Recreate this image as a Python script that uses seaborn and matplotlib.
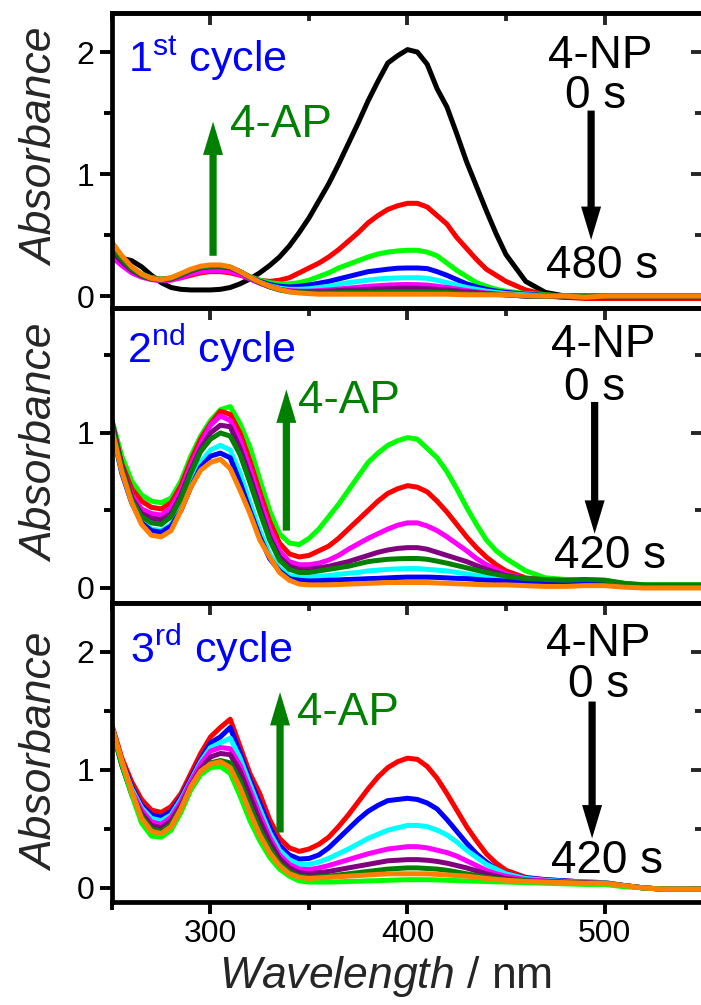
import numpy as np
import pandas as pd
import matplotlib
matplotlib.use("Agg")
import matplotlib.pyplot as plt
from matplotlib.ticker import MultipleLocator, FormatStrFormatter
import seaborn as sns

sns.set_style("ticks")
plt.rcParams["font.family"] = ["Liberation Sans", "DejaVu Sans"]
plt.rcParams["mathtext.fontset"] = "custom"
plt.rcParams["mathtext.rm"] = "Liberation Sans"
plt.rcParams["mathtext.it"] = "Liberation Sans:italic"
plt.rcParams["mathtext.bf"] = "Liberation Sans:bold"

# ---------------- data ----------------
wavelength = [250, 255, 260, 265, 270, 275, 280, 285, 290, 295, 300, 305, 310, 315, 320, 325, 330, 335, 340, 345, 350,
              355, 360, 365, 370, 375, 380, 385, 390, 395, 400, 405, 410, 415, 420, 425, 430, 435, 440, 445, 450,
              460, 470, 480, 490, 500, 510, 520, 530, 540, 550]

# 1st cycle
p1_black = [0.32, 0.31, 0.29, 0.24, 0.17, 0.11, 0.07, 0.055, 0.05, 0.05, 0.05, 0.055, 0.07, 0.10, 0.14, 0.19, 0.25, 0.32, 0.41, 0.52, 0.64,
            0.78, 0.92, 1.08, 1.25, 1.42, 1.60, 1.76, 1.91, 1.97, 2.02, 2.00, 1.90, 1.70, 1.55, 1.33, 1.10, 0.90, 0.70, 0.51, 0.34,
            0.12, 0.03, 0.0, -0.01, -0.01, -0.01, -0.01, -0.01, -0.01, -0.01]
p1_red = [0.37, 0.27, 0.21, 0.17, 0.15, 0.14, 0.14, 0.15, 0.17, 0.19, 0.20, 0.20, 0.19, 0.17, 0.15, 0.13, 0.12, 0.13, 0.15, 0.19, 0.23,
          0.27, 0.32, 0.38, 0.45, 0.52, 0.60, 0.66, 0.71, 0.74, 0.76, 0.76, 0.73, 0.66, 0.59, 0.48, 0.39, 0.30, 0.22, 0.17, 0.12,
          0.05, 0.01, -0.01, -0.02, -0.02, -0.02, -0.02, -0.02, -0.02, -0.02]
p1_green = [0.40, 0.30, 0.23, 0.18, 0.15, 0.14, 0.15, 0.18, 0.21, 0.235, 0.245, 0.245, 0.235, 0.20, 0.16, 0.13, 0.11, 0.10, 0.10, 0.11, 0.13,
            0.16, 0.19, 0.23, 0.26, 0.29, 0.32, 0.345, 0.36, 0.37, 0.375, 0.375, 0.36, 0.33, 0.27, 0.21, 0.16, 0.11, 0.08, 0.055, 0.04,
            0.02, 0.01, 0.0, 0.0, 0.0, 0.0, 0.0, 0.0, 0.0, 0.0]
p1_blue = [0.38, 0.29, 0.22, 0.17, 0.145, 0.135, 0.145, 0.175, 0.21, 0.235, 0.245, 0.245, 0.235, 0.20, 0.155, 0.12, 0.095, 0.08, 0.075, 0.08, 0.09,
           0.105, 0.12, 0.14, 0.16, 0.18, 0.20, 0.21, 0.22, 0.228, 0.23, 0.23, 0.225, 0.20, 0.17, 0.135, 0.10, 0.075, 0.055, 0.04, 0.03,
           0.015, 0.005, 0.0, 0.0, 0.0, 0.0, 0.0, 0.0, 0.0, 0.0]
p1_cyan = [0.33, 0.26, 0.20, 0.16, 0.14, 0.13, 0.14, 0.17, 0.205, 0.23, 0.24, 0.24, 0.23, 0.195, 0.15, 0.11, 0.085, 0.065, 0.055, 0.055, 0.06,
           0.07, 0.08, 0.095, 0.11, 0.12, 0.13, 0.14, 0.145, 0.148, 0.15, 0.15, 0.145, 0.13, 0.11, 0.09, 0.07, 0.055, 0.04, 0.03, 0.02,
           0.01, 0.0, 0.0, -0.01, -0.01, -0.01, -0.01, -0.01, -0.01, -0.01]
p1_magenta = [0.32, 0.25, 0.19, 0.155, 0.135, 0.125, 0.13, 0.15, 0.18, 0.20, 0.21, 0.21, 0.20, 0.175, 0.14, 0.105, 0.075, 0.055, 0.045, 0.04, 0.04,
              0.045, 0.05, 0.057, 0.065, 0.072, 0.08, 0.085, 0.09, 0.093, 0.095, 0.093, 0.09, 0.08, 0.07, 0.058, 0.045, 0.035, 0.025, 0.017, 0.01,
              0.0, 0.0, -0.01, -0.01, -0.01, -0.01, -0.01, -0.01, -0.01, -0.01]
p1_purple = [0.37, 0.28, 0.21, 0.165, 0.14, 0.13, 0.14, 0.17, 0.205, 0.23, 0.24, 0.24, 0.23, 0.195, 0.15, 0.11, 0.08, 0.055, 0.04, 0.035, 0.035,
             0.037, 0.04, 0.045, 0.05, 0.052, 0.055, 0.058, 0.06, 0.063, 0.065, 0.063, 0.06, 0.055, 0.05, 0.042, 0.035, 0.027, 0.02, 0.015, 0.01,
             0.0, 0.0, -0.01, -0.01, -0.01, -0.01, -0.01, -0.01, -0.01, -0.01]
p1_dkgreen = [0.40, 0.30, 0.22, 0.17, 0.14, 0.13, 0.145, 0.175, 0.21, 0.235, 0.245, 0.245, 0.235, 0.20, 0.15, 0.11, 0.075, 0.05, 0.035, 0.03, 0.025,
              0.025, 0.025, 0.027, 0.03, 0.03, 0.03, 0.032, 0.035, 0.035, 0.035, 0.035, 0.035, 0.032, 0.03, 0.025, 0.02, 0.017, 0.015, 0.012, 0.01,
              0.0, 0.0, 0.0, 0.0, 0.0, 0.0, 0.0, 0.0, 0.0, 0.0]
p1_orange = [0.44, 0.33, 0.24, 0.18, 0.145, 0.135, 0.15, 0.185, 0.22, 0.245, 0.255, 0.255, 0.24, 0.20, 0.155, 0.115, 0.08, 0.055, 0.035, 0.025, 0.02,
             0.015, 0.015, 0.015, 0.015, 0.015, 0.015, 0.015, 0.015, 0.015, 0.015, 0.015, 0.015, 0.015, 0.015, 0.012, 0.01, 0.01, 0.01, 0.01, 0.01,
             0.005, 0.0, 0.0, -0.01, 0.0, 0.0, 0.0, 0.0, 0.0, 0.0]

# 2nd cycle
p2_green = [1.08, 0.85, 0.69, 0.60, 0.56, 0.55, 0.58, 0.69, 0.85, 0.98, 1.08, 1.15, 1.17, 1.06, 0.91, 0.70, 0.50, 0.35, 0.29, 0.28, 0.32,
            0.38, 0.46, 0.54, 0.63, 0.72, 0.81, 0.87, 0.92, 0.95, 0.97, 0.96, 0.90, 0.84, 0.75, 0.64, 0.52, 0.41, 0.31, 0.24, 0.19,
            0.11, 0.065, 0.055, 0.05, 0.05, 0.03, 0.02, 0.02, 0.02, 0.02]
p2_red = [1.05, 0.80, 0.64, 0.56, 0.52, 0.51, 0.55, 0.66, 0.82, 0.96, 1.06, 1.14, 1.12, 1.00, 0.82, 0.62, 0.43, 0.29, 0.22, 0.20, 0.21,
          0.24, 0.27, 0.32, 0.38, 0.44, 0.50, 0.56, 0.61, 0.64, 0.66, 0.65, 0.62, 0.56, 0.49, 0.41, 0.33, 0.26, 0.20, 0.15, 0.11,
          0.065, 0.05, 0.045, 0.045, 0.04, 0.02, 0.01, 0.01, 0.01, 0.01]
p2_magenta = [1.05, 0.78, 0.60, 0.51, 0.48, 0.47, 0.52, 0.63, 0.79, 0.93, 1.05, 1.11, 1.08, 0.95, 0.77, 0.57, 0.38, 0.24, 0.17, 0.15, 0.15,
              0.16, 0.18, 0.21, 0.25, 0.285, 0.32, 0.35, 0.38, 0.405, 0.42, 0.42, 0.40, 0.37, 0.33, 0.285, 0.24, 0.19, 0.15, 0.12, 0.09,
              0.06, 0.045, 0.04, 0.04, 0.04, 0.02, 0.01, 0.01, 0.01, 0.01]
p2_purple = [1.08, 0.79, 0.58, 0.48, 0.45, 0.44, 0.48, 0.60, 0.76, 0.90, 1.00, 1.05, 1.04, 0.90, 0.72, 0.52, 0.33, 0.20, 0.14, 0.12, 0.12,
             0.13, 0.14, 0.155, 0.17, 0.19, 0.21, 0.23, 0.245, 0.255, 0.26, 0.26, 0.25, 0.23, 0.21, 0.19, 0.17, 0.145, 0.12, 0.10, 0.08,
             0.06, 0.05, 0.045, 0.045, 0.045, 0.02, 0.01, 0.01, 0.01, 0.01]
p2_cyan = [1.02, 0.74, 0.55, 0.43, 0.38, 0.37, 0.41, 0.52, 0.68, 0.81, 0.89, 0.92, 0.89, 0.74, 0.55, 0.37, 0.22, 0.13, 0.08, 0.07, 0.07,
           0.075, 0.08, 0.088, 0.095, 0.10, 0.11, 0.115, 0.12, 0.123, 0.125, 0.125, 0.12, 0.115, 0.11, 0.10, 0.09, 0.08, 0.07, 0.062, 0.055,
           0.045, 0.04, 0.035, 0.035, 0.035, 0.02, 0.01, 0.01, 0.01, 0.01]
p2_blue = [1.02, 0.74, 0.55, 0.42, 0.37, 0.36, 0.40, 0.50, 0.65, 0.78, 0.85, 0.87, 0.84, 0.68, 0.50, 0.33, 0.19, 0.11, 0.06, 0.05, 0.045,
           0.047, 0.05, 0.052, 0.055, 0.057, 0.06, 0.062, 0.065, 0.068, 0.07, 0.07, 0.07, 0.068, 0.065, 0.062, 0.06, 0.055, 0.05, 0.048, 0.045,
           0.04, 0.035, 0.03, 0.03, 0.03, 0.015, 0.01, 0.01, 0.01, 0.01]
p2_dkgreen = [1.05, 0.77, 0.57, 0.46, 0.42, 0.41, 0.46, 0.58, 0.74, 0.88, 0.96, 1.00, 0.98, 0.86, 0.68, 0.49, 0.31, 0.18, 0.12, 0.10, 0.10,
              0.11, 0.12, 0.13, 0.14, 0.155, 0.17, 0.178, 0.185, 0.188, 0.19, 0.19, 0.185, 0.173, 0.16, 0.145, 0.13, 0.115, 0.10, 0.088, 0.075,
              0.06, 0.055, 0.05, 0.055, 0.05, 0.03, 0.02, 0.02, 0.02, 0.02]
p2_orange = [1.02, 0.75, 0.55, 0.41, 0.34, 0.33, 0.37, 0.50, 0.65, 0.76, 0.81, 0.83, 0.77, 0.63, 0.48, 0.31, 0.20, 0.10, 0.05, 0.025, 0.02,
             0.02, 0.02, 0.022, 0.025, 0.027, 0.03, 0.032, 0.035, 0.035, 0.035, 0.035, 0.035, 0.032, 0.03, 0.027, 0.025, 0.022, 0.02, 0.02, 0.02,
             0.015, 0.01, 0.01, 0.015, 0.015, 0.005, 0.0, 0.0, 0.0, 0.0]

# 3rd cycle
p3_red = [1.38, 1.10, 0.90, 0.75, 0.66, 0.64, 0.69, 0.80, 0.97, 1.14, 1.28, 1.36, 1.43, 1.20, 0.97, 0.80, 0.58, 0.42, 0.34, 0.31, 0.33,
          0.37, 0.43, 0.52, 0.62, 0.73, 0.84, 0.94, 1.02, 1.07, 1.10, 1.09, 1.03, 0.93, 0.80, 0.66, 0.52, 0.40, 0.29, 0.21, 0.15,
          0.09, 0.07, 0.06, 0.05, 0.045, 0.02, 0.0, -0.01, -0.01, -0.01]
p3_blue = [1.36, 1.08, 0.86, 0.70, 0.62, 0.60, 0.65, 0.77, 0.93, 1.09, 1.23, 1.28, 1.36, 1.14, 0.92, 0.72, 0.52, 0.36, 0.28, 0.245, 0.25,
           0.28, 0.34, 0.42, 0.50, 0.58, 0.65, 0.70, 0.74, 0.75, 0.76, 0.75, 0.72, 0.67, 0.58, 0.48, 0.38, 0.29, 0.22, 0.16, 0.12,
           0.085, 0.07, 0.06, 0.05, 0.045, 0.02, 0.0, -0.01, -0.01, -0.01]
p3_cyan = [1.35, 1.06, 0.84, 0.68, 0.59, 0.57, 0.62, 0.75, 0.91, 1.07, 1.19, 1.23, 1.27, 1.10, 0.88, 0.67, 0.47, 0.32, 0.24, 0.20, 0.20,
           0.22, 0.25, 0.29, 0.33, 0.375, 0.42, 0.455, 0.49, 0.51, 0.53, 0.53, 0.52, 0.49, 0.45, 0.39, 0.32, 0.26, 0.20, 0.16, 0.12,
           0.08, 0.065, 0.055, 0.05, 0.045, 0.02, 0.0, -0.01, -0.01, -0.01]
p3_magenta = [1.35, 1.05, 0.82, 0.66, 0.56, 0.54, 0.60, 0.73, 0.90, 1.05, 1.16, 1.19, 1.18, 1.04, 0.83, 0.62, 0.43, 0.28, 0.20, 0.16, 0.155,
              0.17, 0.19, 0.215, 0.24, 0.265, 0.29, 0.31, 0.33, 0.34, 0.35, 0.35, 0.34, 0.32, 0.30, 0.27, 0.23, 0.19, 0.15, 0.12, 0.10,
              0.07, 0.06, 0.05, 0.045, 0.04, 0.02, 0.0, -0.01, -0.01, -0.01]
p3_purple = [1.35, 1.04, 0.80, 0.63, 0.53, 0.51, 0.57, 0.70, 0.87, 1.01, 1.11, 1.14, 1.13, 0.99, 0.78, 0.57, 0.39, 0.25, 0.17, 0.13, 0.12,
             0.13, 0.14, 0.155, 0.17, 0.185, 0.20, 0.215, 0.23, 0.235, 0.24, 0.24, 0.235, 0.225, 0.21, 0.19, 0.17, 0.145, 0.12, 0.10, 0.08,
             0.06, 0.055, 0.05, 0.045, 0.04, 0.02, 0.0, -0.01, -0.01, -0.01]
p3_dkgreen = [1.35, 1.04, 0.79, 0.61, 0.50, 0.48, 0.54, 0.68, 0.86, 0.99, 1.06, 1.08, 1.06, 0.91, 0.70, 0.50, 0.34, 0.21, 0.14, 0.10, 0.09,
              0.095, 0.10, 0.11, 0.12, 0.13, 0.14, 0.15, 0.16, 0.165, 0.17, 0.17, 0.165, 0.16, 0.15, 0.135, 0.12, 0.105, 0.09, 0.08, 0.07,
              0.06, 0.05, 0.045, 0.04, 0.04, 0.02, 0.0, -0.01, -0.01, -0.01]
p3_green = [1.36, 1.06, 0.79, 0.55, 0.44, 0.43, 0.49, 0.64, 0.83, 0.96, 1.02, 1.03, 0.97, 0.78, 0.57, 0.40, 0.26, 0.16, 0.10, 0.06, 0.05,
            0.05, 0.05, 0.052, 0.055, 0.057, 0.06, 0.062, 0.065, 0.068, 0.07, 0.07, 0.07, 0.068, 0.065, 0.062, 0.06, 0.057, 0.055, 0.052, 0.05,
            0.045, 0.04, 0.035, 0.03, 0.03, 0.01, 0.0, -0.01, -0.01, -0.01]
p3_orange = [1.36, 1.08, 0.82, 0.59, 0.48, 0.46, 0.52, 0.67, 0.86, 0.99, 1.05, 1.07, 1.02, 0.85, 0.64, 0.45, 0.30, 0.19, 0.12, 0.09, 0.08,
             0.085, 0.09, 0.095, 0.10, 0.105, 0.11, 0.115, 0.12, 0.12, 0.12, 0.12, 0.12, 0.115, 0.11, 0.105, 0.10, 0.09, 0.08, 0.072, 0.065,
             0.055, 0.05, 0.045, 0.04, 0.04, 0.02, 0.0, -0.01, -0.01, -0.01]

palette = {"black": "#000000", "red": "#FF0000", "green": "#00FF00", "blue": "#0000FF",
           "cyan": "#00FFFF", "magenta": "#FF00FF", "purple": "#800080",
           "dkgreen": "#008000", "orange": "#FF8000"}

panel1 = [("black", p1_black), ("red", p1_red), ("green", p1_green), ("blue", p1_blue), ("cyan", p1_cyan),
          ("magenta", p1_magenta), ("purple", p1_purple), ("dkgreen", p1_dkgreen), ("orange", p1_orange)]
panel2 = [("green", p2_green), ("red", p2_red), ("magenta", p2_magenta), ("purple", p2_purple), ("cyan", p2_cyan),
          ("blue", p2_blue), ("dkgreen", p2_dkgreen), ("orange", p2_orange)]
panel3 = [("red", p3_red), ("blue", p3_blue), ("cyan", p3_cyan), ("magenta", p3_magenta), ("purple", p3_purple),
          ("dkgreen", p3_dkgreen), ("green", p3_green), ("orange", p3_orange)]

# ---------------- figure ----------------
fig = plt.figure(figsize=(7.01, 10.05), dpi=100)
L = 112 / 701
Wd = (703 - 112) / 701


def yfr(py):
    return 1 - py / 1005


ax1 = fig.add_axes([L, yfr(308), Wd, yfr(13) - yfr(308)])
ax2 = fig.add_axes([L, yfr(603), Wd, yfr(308) - yfr(603)])
ax3 = fig.add_axes([L, yfr(902), Wd, yfr(603) - yfr(902)])

SPW = 3.4
TW = 2.8
MAJ = 8.5
MIN = 5.5


def plot_panel(ax, series):
    df = pd.concat([pd.DataFrame({"wavelength": wavelength, "absorbance": vals, "curve": name})
                    for name, vals in series], ignore_index=True)
    sns.lineplot(data=df, x="wavelength", y="absorbance", hue="curve",
                 hue_order=[n for n, _ in series], palette=palette,
                 estimator=None, sort=False, linewidth=3.6, legend=False, ax=ax)


def style_axes(ax, ylim, yticks, show_x, ylab_y):
    ax.set_xlim(250, 550)
    ax.set_ylim(*ylim)
    ax.set_xticks([300, 400, 500])
    ax.xaxis.set_minor_locator(MultipleLocator(50))
    ax.set_yticks(yticks)
    ax.yaxis.set_minor_locator(MultipleLocator(0.5))
    ax.yaxis.set_major_formatter(FormatStrFormatter("%d"))
    for s in ax.spines.values():
        s.set_visible(True)
        s.set_linewidth(SPW)
        s.set_color("black")
    ax.tick_params(axis="both", which="major", direction="out", length=MAJ, width=TW,
                   labelsize=23, pad=4, color="black", labelcolor="black")
    ax.tick_params(axis="both", which="minor", direction="out", length=MIN, width=TW, color="black")
    ax.tick_params(axis="x", which="both", top=False, bottom=True, labelbottom=show_x)
    ax.tick_params(axis="y", which="both", left=True, right=False)
    ax.set_xlabel("")
    ax.set_ylabel("Absorbance", fontsize=32, fontstyle="italic")
    ax.yaxis.set_label_coords(-0.084, ylab_y)

    secx = ax.secondary_xaxis("top")
    secx.set_xticks([300, 400, 500])
    secx.xaxis.set_minor_locator(MultipleLocator(50))
    secx.tick_params(which="major", direction="in", length=MAJ, width=TW, labeltop=False, labelbottom=False)
    secx.tick_params(which="minor", direction="in", length=MIN, width=TW)
    for s in secx.spines.values():
        s.set_linewidth(SPW)

    secy = ax.secondary_yaxis("right")
    secy.set_yticks(yticks)
    secy.yaxis.set_minor_locator(MultipleLocator(0.5))
    secy.tick_params(which="major", direction="in", length=MAJ, width=TW, labelright=False, labelleft=False)
    secy.tick_params(which="minor", direction="in", length=MIN, width=TW)
    for s in secy.spines.values():
        s.set_linewidth(SPW)


def arrow(ax, x, y_from, y_to, color):
    ax.annotate("", xy=(x, y_to), xytext=(x, y_from),
                arrowprops=dict(arrowstyle="simple,head_length=1.2,head_width=0.72,tail_width=0.26",
                                fc=color, ec=color, lw=0, mutation_scale=20, shrinkA=0, shrinkB=0))


BLUE = "#0000FF"
DG = "#008000"
FS = 33
FSC = 31

# panel 1
plot_panel(ax1, panel1)
style_axes(ax1, (-0.098, 2.32), [0, 1, 2], False, 0.546)
ax1.text(258.1, 1.84, r"$\mathrm{1^{st}}$ cycle", color=BLUE, fontsize=FSC, ha="left", va="baseline")
arrow(ax1, 301.3, 0.33, 1.43, DG)
ax1.text(310, 1.30, "4-AP", color=DG, fontsize=FS, ha="left", va="baseline")
ax1.text(497.7, 1.87, "4-NP", color="black", fontsize=FS, ha="center", va="baseline")
ax1.text(495.7, 1.54, "0 s", color="black", fontsize=FS, ha="center", va="baseline")
arrow(ax1, 493.2, 1.52, 0.46, "black")
ax1.text(499, 0.15, "480 s", color="black", fontsize=FS, ha="center", va="baseline")

# panel 2
plot_panel(ax2, panel2)
style_axes(ax2, (-0.097, 1.806), [0, 1], False, 0.542)
ax2.text(257.6, 1.45, r"$\mathrm{2^{nd}}$ cycle", color=BLUE, fontsize=FSC, ha="left", va="baseline")
arrow(ax2, 338.5, 0.37, 1.28, DG)
ax2.text(344.4, 1.13, "4-AP", color=DG, fontsize=FS, ha="left", va="baseline")
ax2.text(499.5, 1.49, "4-NP", color="black", fontsize=FS, ha="center", va="baseline")
ax2.text(495, 1.215, "0 s", color="black", fontsize=FS, ha="center", va="baseline")
arrow(ax2, 495, 1.20, 0.35, "black")
ax2.text(502.8, 0.13, "420 s", color="black", fontsize=FS, ha="center", va="baseline")

# panel 3
plot_panel(ax3, panel3)
style_axes(ax3, (-0.119, 2.415), [0, 1, 2], True, 0.5)
ax3.text(259, 1.91, r"$\mathrm{3^{rd}}$ cycle", color=BLUE, fontsize=FSC, ha="left", va="baseline")
arrow(ax3, 335.3, 0.47, 1.66, DG)
ax3.text(344, 1.38, "4-AP", color=DG, fontsize=FS, ha="left", va="baseline")
ax3.text(497, 1.97, "4-NP", color="black", fontsize=FS, ha="center", va="baseline")
ax3.text(497, 1.62, "0 s", color="black", fontsize=FS, ha="center", va="baseline")
arrow(ax3, 493.7, 1.58, 0.42, "black")
ax3.text(501.5, 0.13, "420 s", color="black", fontsize=FS, ha="center", va="baseline")

ax3.set_xlabel(r"$\mathit{Wavelength}$ / nm", fontsize=32)
ax3.xaxis.set_label_coords(0.462, -0.175)

fig.savefig("out.png", dpi=100)
